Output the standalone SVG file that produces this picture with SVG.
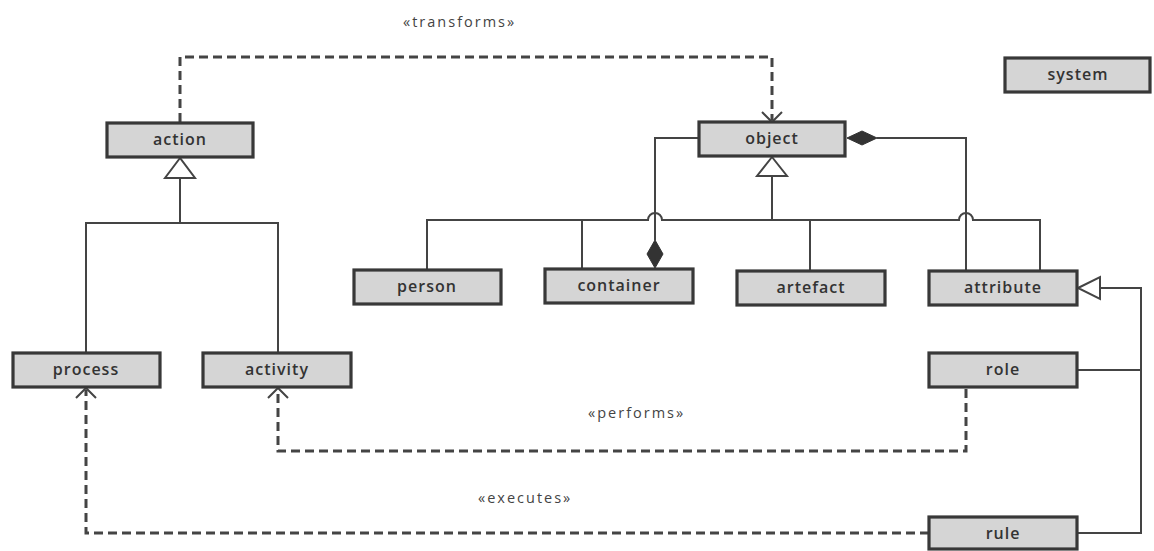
<svg xmlns="http://www.w3.org/2000/svg" width="1154" height="551" viewBox="0 0 1154 551">
<style>
.box{fill:#d5d5d5;stroke:#383838;stroke-width:3.2}
.lbl{font-family:"Open Sans","DejaVu Sans",sans-serif;font-weight:600;font-size:16px;fill:#333;text-anchor:middle;letter-spacing:1px}
.ster{font-family:"Open Sans","DejaVu Sans",sans-serif;font-size:14.5px;fill:#444;letter-spacing:2px}
.ln{fill:none;stroke:#444;stroke-width:2}
.dash{fill:none;stroke:#444;stroke-width:3;stroke-dasharray:9 5}
.open{fill:none;stroke:#444;stroke-width:2}
.tri{fill:#fff;stroke:#444;stroke-width:2}
.dia{fill:#333;stroke:#333;stroke-width:1}
</style>
<rect width="1154" height="551" fill="#fff"/>
<g id="connectors">
  <!-- action generalization -->
  <path class="ln" d="M86,353 V223 H278 V353 M180,223 V178"/>
  <polygon class="tri" points="180,158 165,178 195,178"/>
  <!-- object generalization -->
  <path class="ln" d="M427,270 V220 H648 A7,7 0 0 1 662,220 H959 A7,7 0 0 1 973,220 H1040 V271 M582,220 V269 M810,220 V271 M772,220 V176"/>
  <polygon class="tri" points="772,157 757,176 787,176"/>
  <!-- object - container composition -->
  <path class="ln" d="M699,138 H655 V240"/>
  <polygon class="dia" points="655,240 663,254 655,268 647,254"/>
  <!-- object - attribute composition -->
  <path class="ln" d="M877,138 H966 V271"/>
  <polygon class="dia" points="847,138 862,131 877,138 862,145"/>
  <!-- role / rule generalization to attribute -->
  <path class="ln" d="M1100,288 H1141 V533 H1077 M1077,370 H1141"/>
  <polygon class="tri" points="1078,288 1100,277 1100,299"/>
  <!-- transforms -->
  <path class="dash" d="M180,122 V57 H772 V120"/>
  <path class="open" d="M762,112 L772,122 L782,112"/>
  <!-- performs -->
  <path class="dash" d="M966,389 V451 H278 V390"/>
  <path class="open" d="M268,398 L278,388 L288,398"/>
  <!-- executes -->
  <path class="dash" d="M929,533 H86 V390"/>
  <path class="open" d="M76,398 L86,388 L96,398"/>
  <text class="ster" x="403" y="27">«transforms»</text>
  <text class="ster" x="588" y="418">«performs»</text>
  <text class="ster" x="478" y="503">«executes»</text>
</g>
<g id="action"><rect class="box" x="107" y="123" width="146" height="34"/><text class="lbl" x="180" y="145">action</text></g>
<g id="object"><rect class="box" x="699" y="122" width="146" height="34"/><text class="lbl" x="772" y="144">object</text></g>
<g id="system"><rect class="box" x="1005" y="58" width="145" height="34"/><text class="lbl" x="1078" y="80">system</text></g>
<g id="person"><rect class="box" x="354" y="270" width="147" height="34"/><text class="lbl" x="427" y="292">person</text></g>
<g id="container"><rect class="box" x="545" y="269" width="148" height="34"/><text class="lbl" x="619" y="291">container</text></g>
<g id="artefact"><rect class="box" x="737" y="271" width="148" height="34"/><text class="lbl" x="811" y="293">artefact</text></g>
<g id="attribute"><rect class="box" x="929" y="271" width="148" height="34"/><text class="lbl" x="1003" y="293">attribute</text></g>
<g id="process"><rect class="box" x="13" y="353" width="147" height="34"/><text class="lbl" x="86" y="375">process</text></g>
<g id="activity"><rect class="box" x="203" y="353" width="148" height="34"/><text class="lbl" x="277" y="375">activity</text></g>
<g id="role"><rect class="box" x="929" y="353" width="148" height="34"/><text class="lbl" x="1003" y="375">role</text></g>
<g id="rule"><rect class="box" x="929" y="517" width="148" height="32"/><text class="lbl" x="1003" y="539">rule</text></g>
</svg>
